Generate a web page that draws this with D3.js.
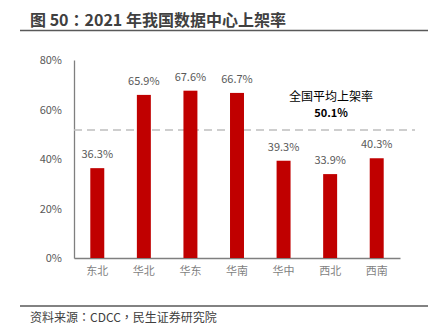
<!DOCTYPE html>
<html><head><meta charset="utf-8">
<script src="https://cdn.jsdelivr.net/npm/d3@7"></script>
<style>body{margin:0;background:#fff}svg{display:block}</style>
</head><body><svg id="c" width="428" height="328"></svg>
<script>
const categories = ["东北","华北","华东","华南","华中","西北","西南"];
const values = [36.3,65.9,67.6,66.7,39.3,33.9,40.3];
const yTicks = [0,20,40,60,80];
const avgLabel = ["全国平均上架率","50.1%"];
const avgLinePos = [51.7];
const titleText = "图 50：2021 年我国数据中心上架率";
const sourceText = "资料来源：CDCC，民生证券研究院";

const svg = d3.select("#c");
const font = "'Microsoft YaHei','Noto Sans CJK SC',sans-serif";
const fontTC = "'Noto Sans CJK TC','Noto Sans CJK SC',sans-serif";
const m = {l:74, r:400, t:60, b:258};
const x = d3.scaleBand().domain(categories).range([m.l, m.r]).paddingInner(0.7).paddingOuter(0.35);
const y = d3.scaleLinear().domain([0,80]).range([m.b, m.t]);

// title
svg.append("text").attr("x",30).attr("y",26).attr("font-family",fontTC).attr("font-size",16)
  .attr("font-weight","bold").attr("fill","#404040").text(titleText);
svg.append("line").attr("x1",20).attr("x2",428).attr("y1",30.5).attr("y2",30.5).attr("stroke","#595959").attr("stroke-width",1.5);

// y axis
const ya = svg.append("g").attr("transform",`translate(${m.l},0)`)
  .call(d3.axisLeft(y).tickValues(yTicks).tickFormat(d=>d+"%").tickSize(0).tickPadding(12));
ya.select(".domain").attr("stroke","#7f7f7f").attr("stroke-width",1.3);
ya.selectAll("text").attr("font-family",font).attr("font-size",11).attr("fill","#595959");

// x axis
const xa = svg.append("g").attr("transform",`translate(0,${m.b})`)
  .call(d3.axisBottom(x).tickSize(0).tickPadding(9));
xa.select(".domain").attr("stroke","#7f7f7f").attr("stroke-width",1.3);
xa.selectAll("text").attr("font-family",font).attr("font-size",11).attr("fill","#7f7f7f");

// avg dashed line
svg.append("line").attr("x1",m.l).attr("x2",415).attr("y1",y(avgLinePos[0])).attr("y2",y(avgLinePos[0]))
  .attr("stroke","#bfbfbf").attr("stroke-width",1.5).attr("stroke-dasharray","8,5");

// bars
svg.selectAll("rect.bar").data(values).join("rect").attr("class","bar")
  .attr("x",(d,i)=>x(categories[i])).attr("width",x.bandwidth())
  .attr("y",d=>y(d)).attr("height",d=>m.b-y(d)).attr("fill","#c00000");

svg.selectAll("text.val").data(values).join("text").attr("class","val")
  .attr("x",(d,i)=>x(categories[i])+x.bandwidth()/2).attr("y",d=>y(d)-10)
  .attr("text-anchor","middle").attr("font-family",font).attr("font-size",11).attr("fill","#595959")
  .text(d=>d.toFixed(1)+"%");

// avg label
svg.append("text").attr("x",331).attr("y",101).attr("text-anchor","middle").attr("font-family",font)
  .attr("font-size",12).attr("fill","#000").text(avgLabel[0]);
svg.append("text").attr("x",331).attr("y",117).attr("text-anchor","middle").attr("font-family",font)
  .attr("font-size",11).attr("font-weight","bold").attr("fill","#000").text(avgLabel[1]);

// footer
svg.append("line").attr("x1",20).attr("x2",428).attr("y1",306).attr("y2",306).attr("stroke","#595959").attr("stroke-width",1.5);
svg.append("text").attr("x",30).attr("y",322).attr("font-family",fontTC).attr("font-size",12)
  .attr("fill","#404040").text(sourceText);
</script></body></html>
